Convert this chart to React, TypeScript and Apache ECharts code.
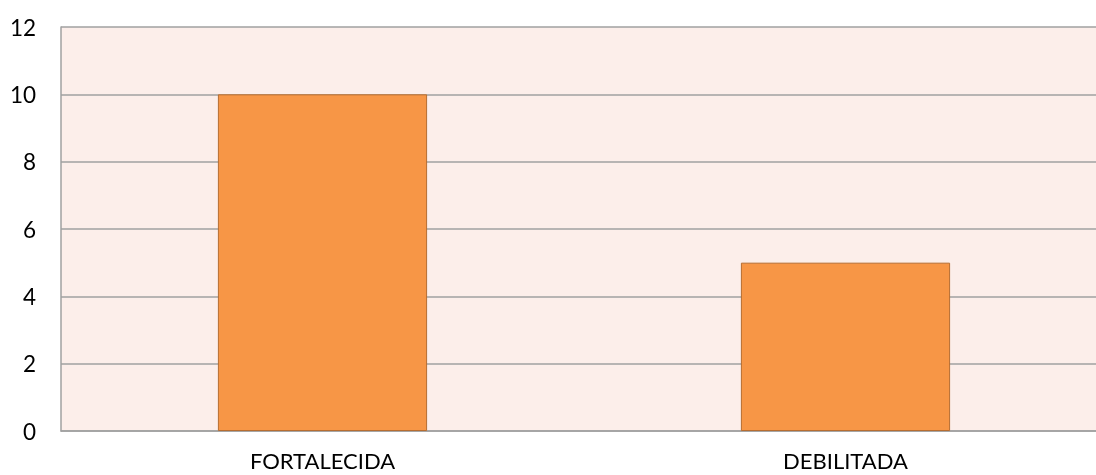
import React, { useEffect, useRef } from "react";
import * as echarts from "echarts";

const categories = ["FORTALECIDA", "DEBILITADA"];
const values = [10, 5];
const yMin = 0;
const yMax = 12;
const yInterval = 2;

export default function App() {
  const ref = useRef<HTMLDivElement>(null);
  useEffect(() => {
    if (!ref.current) return;
    const chart = echarts.init(ref.current, undefined, { renderer: "svg" });
    chart.setOption({
      animation: false,
      textStyle: { fontFamily: "Lato" },
      grid: {
        left: 61,
        top: 27,
        bottom: 44,
        right: 0,
        show: true,
        backgroundColor: "#FCEEEA",
        borderWidth: 0,
      },
      xAxis: {
        type: "category",
        data: categories,
        axisLine: { show: true, lineStyle: { color: "#A0A0A0", width: 1.5 } },
        axisTick: { show: false },
        axisLabel: {
          color: "#000",
          fontSize: 22,
          lineHeight: 20,
          margin: 19,
          fontFamily: "Lato",
        },
      },
      yAxis: {
        type: "value",
        min: yMin,
        max: yMax,
        interval: yInterval,
        axisLine: { show: true, lineStyle: { color: "#A0A0A0", width: 1.5 } },
        axisTick: { show: false },
        axisLabel: { color: "#000", fontSize: 22.5, margin: 25, fontFamily: "Lato" },
        splitLine: { show: true, lineStyle: { color: "#A0A0A0", width: 1.5 } },
      },
      series: [
        {
          type: "bar",
          data: values,
          barWidth: "40%",
          itemStyle: { color: "#F79646", borderColor: "#B66D31", borderWidth: 1 },
        },
      ],
    });
    return () => chart.dispose();
  }, []);
  return (
    <div
      style={{ position: "fixed", left: 0, top: 0, width: 1096, height: 475, overflow: "hidden" }}
    >
      <div ref={ref} style={{ position: "absolute", left: 0, top: 0, width: 1107, height: 475 }} />
    </div>
  );
}
